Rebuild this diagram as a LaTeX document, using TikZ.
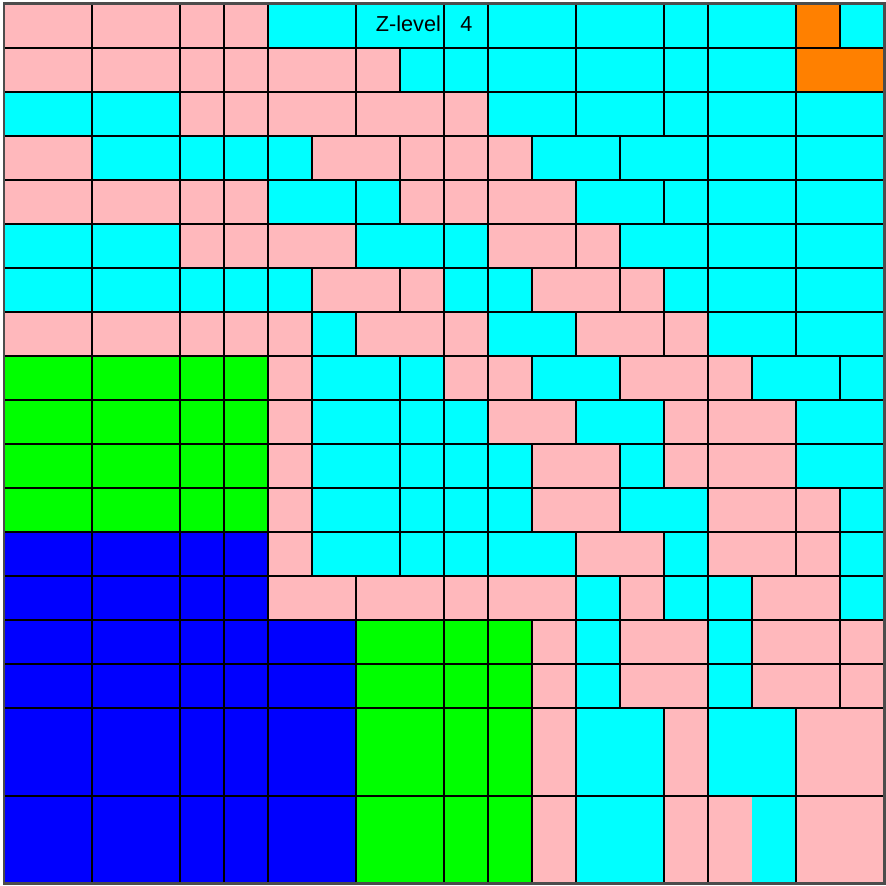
\documentclass[tikz,border=0pt]{standalone}
\usepackage{fontspec}
\setmainfont{Liberation Sans}
\definecolor{pk}{RGB}{255,184,188}
\definecolor{cy}{RGB}{0,255,255}
\definecolor{gr}{RGB}{0,255,0}
\definecolor{bl}{RGB}{0,0,255}
\definecolor{or}{RGB}{255,128,0}
\tikzset{
  cell/.style={draw=black, line width=1.3pt},
  zlabel/.style={font=\fontsize{14}{16}\selectfont, inner sep=2pt}
}
% one row of cells: top, bottom, list of left/right/colour
\newcommand{\zrow}[3]{\foreach \xa/\xb/\cc in {#3} \draw[cell, fill=\cc] (\xa,-#1) rectangle (\xb,-#2);}
\begin{document}
\begin{tikzpicture}
        \useasboundingbox (-0.098,0.08) rectangle (20.016,-20.056);

        % Rows 0-4
        \zrow{0}{1}{0/2/pk,2/4/pk,4/5/pk,5/6/pk,6/8/cy,8/10/cy,10/11/cy,11/13/cy,13/15/cy,15/16/cy,16/18/cy,18/19/or,19/20/cy}
        \zrow{1}{2}{0/2/pk,2/4/pk,4/5/pk,5/6/pk,6/8/pk,8/9/pk,9/10/cy,10/11/cy,11/13/cy,13/15/cy,15/16/cy,16/18/cy,18/20/or}
        \zrow{2}{3}{0/2/cy,2/4/cy,4/5/pk,5/6/pk,6/8/pk,8/10/pk,10/11/pk,11/13/cy,13/15/cy,15/16/cy,16/18/cy,18/20/cy}
        \zrow{3}{4}{0/2/pk,2/4/cy,4/5/cy,5/6/cy,6/7/cy,7/9/pk,9/10/pk,10/11/pk,11/12/pk,12/14/cy,14/16/cy,16/18/cy,18/20/cy}
        \zrow{4}{5}{0/2/pk,2/4/pk,4/5/pk,5/6/pk,6/8/cy,8/9/cy,9/10/pk,10/11/pk,11/13/pk,13/15/cy,15/16/cy,16/18/cy,18/20/cy}

        % Rows 5-7
        \zrow{5}{6}{0/2/cy,2/4/cy,4/5/pk,5/6/pk,6/8/pk,8/10/cy,10/11/cy,11/13/pk,13/14/pk,14/16/cy,16/18/cy,18/20/cy}
        \zrow{6}{7}{0/2/cy,2/4/cy,4/5/cy,5/6/cy,6/7/cy,7/9/pk,9/10/pk,10/11/cy,11/12/cy,12/14/pk,14/15/pk,15/16/cy,16/18/cy,18/20/cy}
        \zrow{7}{8}{0/2/pk,2/4/pk,4/5/pk,5/6/pk,6/7/pk,7/8/cy,8/10/pk,10/11/pk,11/13/cy,13/15/pk,15/16/pk,16/18/cy,18/20/cy}

        % Rows 8-11 (green block)
        \zrow{8}{9}{0/2/gr,2/4/gr,4/5/gr,5/6/gr,6/7/pk,7/9/cy,9/10/cy,10/11/pk,11/12/pk,12/14/cy,14/16/pk,16/17/pk,17/19/cy,19/20/cy}
        \zrow{9}{10}{0/2/gr,2/4/gr,4/5/gr,5/6/gr,6/7/pk,7/9/cy,9/10/cy,10/11/cy,11/13/pk,13/15/cy,15/16/pk,16/18/pk,18/20/cy}
        \zrow{10}{11}{0/2/gr,2/4/gr,4/5/gr,5/6/gr,6/7/pk,7/9/cy,9/10/cy,10/11/cy,11/12/cy,12/14/pk,14/15/cy,15/16/pk,16/18/pk,18/20/cy}
        \zrow{11}{12}{0/2/gr,2/4/gr,4/5/gr,5/6/gr,6/7/pk,7/9/cy,9/10/cy,10/11/cy,11/12/cy,12/14/pk,14/16/cy,16/18/pk,18/19/pk,19/20/cy}

        % Rows 12-15 (blue block)
        \zrow{12}{13}{0/2/bl,2/4/bl,4/5/bl,5/6/bl,6/7/pk,7/9/cy,9/10/cy,10/11/cy,11/13/cy,13/15/pk,15/16/cy,16/18/pk,18/19/pk,19/20/cy}
        \zrow{13}{14}{0/2/bl,2/4/bl,4/5/bl,5/6/bl,6/8/pk,8/10/pk,10/11/pk,11/13/pk,13/14/cy,14/15/pk,15/16/cy,16/17/cy,17/19/pk,19/20/cy}
        \zrow{14}{15}{0/2/bl,2/4/bl,4/5/bl,5/6/bl,6/8/bl,8/10/gr,10/11/gr,11/12/gr,12/13/pk,13/14/cy,14/16/pk,16/17/cy,17/19/pk,19/20/pk}
        \zrow{15}{16}{0/2/bl,2/4/bl,4/5/bl,5/6/bl,6/8/bl,8/10/gr,10/11/gr,11/12/gr,12/13/pk,13/14/cy,14/16/pk,16/17/cy,17/19/pk,19/20/pk}

        % Tall rows at the bottom
        \zrow{16}{18}{0/2/bl,2/4/bl,4/5/bl,5/6/bl,6/8/bl,8/10/gr,10/11/gr,11/12/gr,12/13/pk,13/15/cy,15/16/pk,16/18/cy,18/20/pk}
        \zrow{18}{20}{0/2/bl,2/4/bl,4/5/bl,5/6/bl,6/8/bl,8/10/gr,10/11/gr,11/12/gr,12/13/pk,13/15/cy,15/16/pk,18/20/pk}

        % Split cell (half pink, half cyan)
        \fill[pk] (16,-18) rectangle (17,-20);
        \fill[cy] (17,-18) rectangle (18,-20);
        \draw[cell] (16,-18) rectangle (18,-20);

        % Outer frame
        \draw[line width=1.5pt, black!70] (0,0) rectangle (20,-20);

        % Level label
        \node[zlabel, anchor=east] (zlevel) at (10,-0.47) {Z-level};
        \node[zlabel] (zvalue) at (10.5,-0.47) {4};
    \end{tikzpicture}
\end{document}
